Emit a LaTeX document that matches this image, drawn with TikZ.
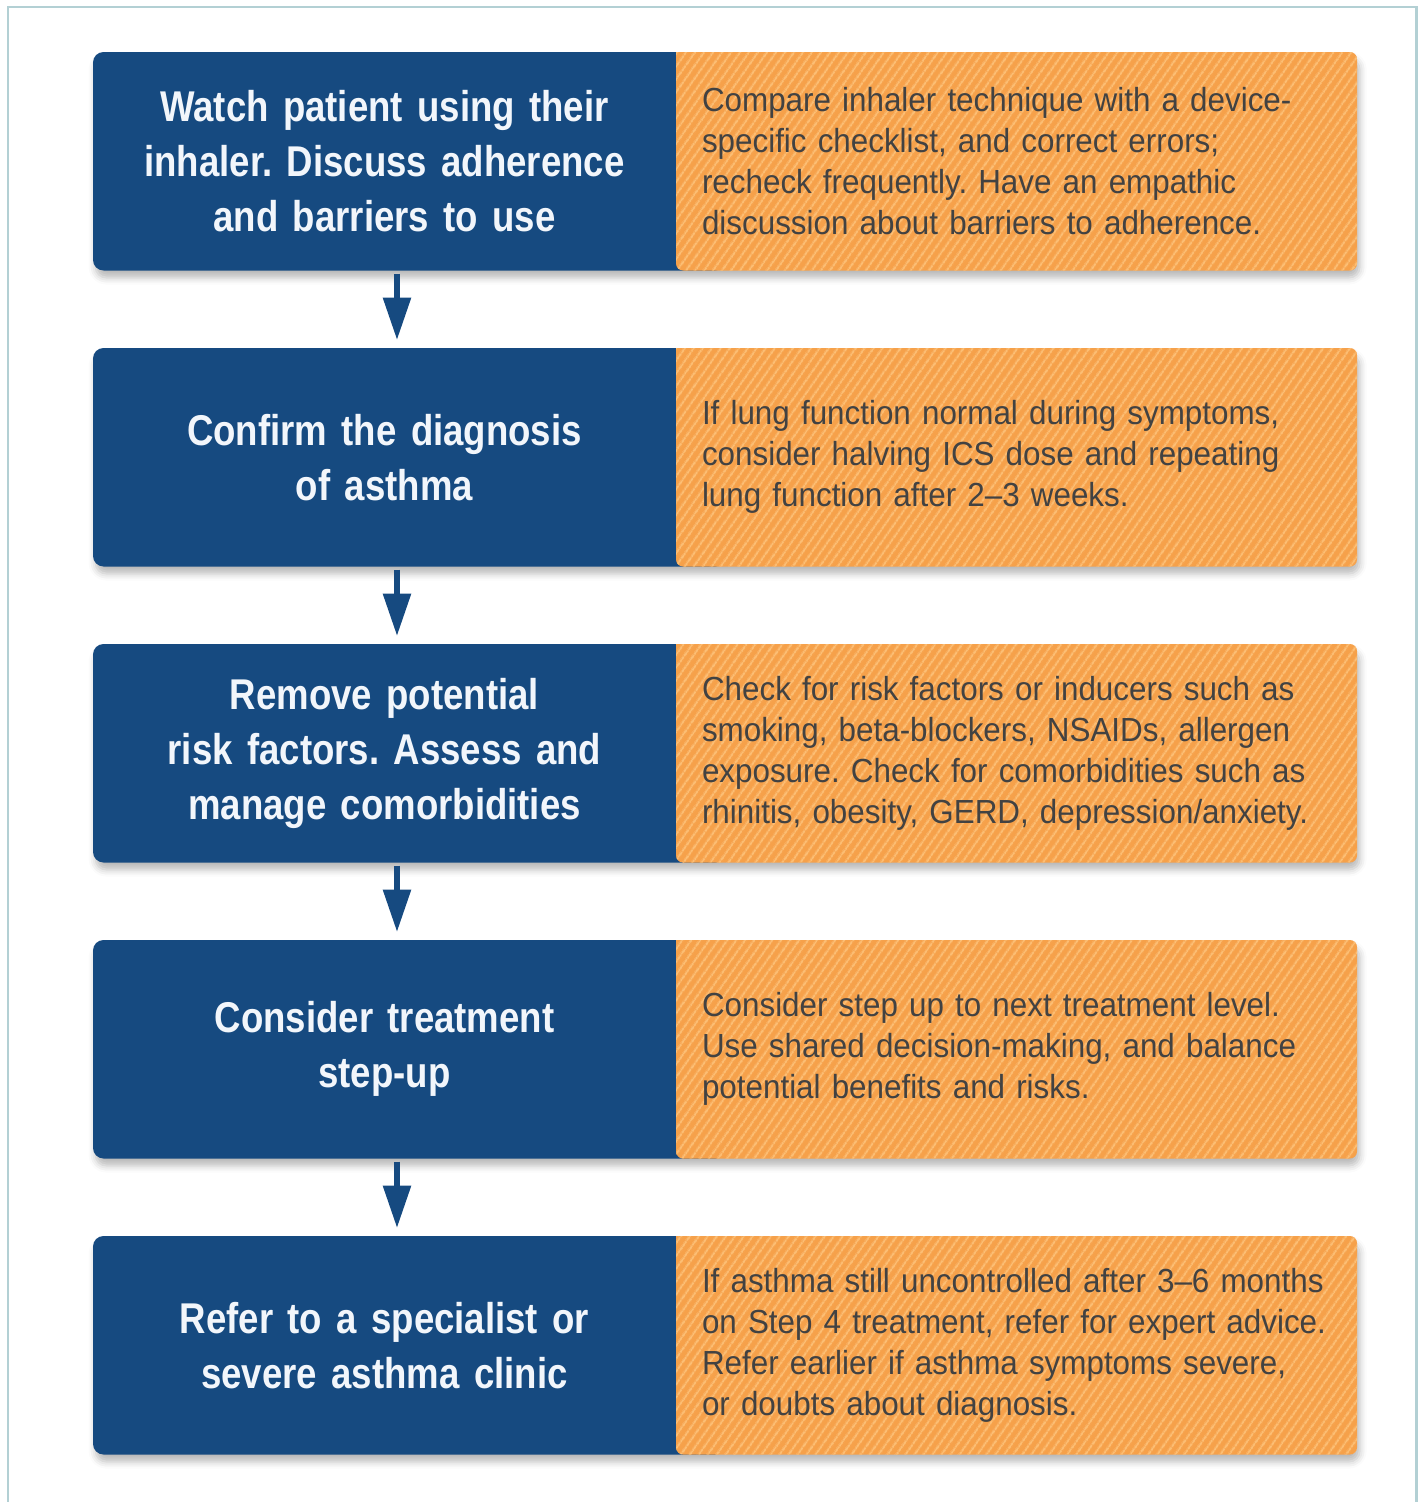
\documentclass[tikz,border=0pt]{standalone}
\usepackage{fontspec}
\setmainfont{Liberation Sans}[FakeStretch=0.94]
\newfontfamily\actfont{Liberation Sans}[FakeStretch=0.85]
\usetikzlibrary{positioning,arrows.meta,backgrounds,shadows.blur,patterns.meta}
\frenchspacing

\definecolor{actblue}{HTML}{164A80}
\definecolor{acttext}{HTML}{F2F6FB}
\definecolor{noteorange}{HTML}{F6A14A}
\definecolor{stripe}{HTML}{FCBE74}
\definecolor{notetext}{HTML}{424242}
\definecolor{framecol}{HTML}{B3D0D4}

\begin{document}
\begin{tikzpicture}[
    act/.style={minimum width=11.66cm, minimum height=4.37cm, text width=11cm,
      align=center, inner sep=0pt, outer sep=0pt, text=acttext,
      font=\actfont\bfseries\fontsize{24.5}{31.3}\selectfont},
    note/.style={minimum width=13.62cm, minimum height=4.37cm, text width=12.58cm,
      align=left, inner xsep=0.52cm, inner ysep=0pt, outer sep=0pt, text=notetext,
      font=\fontsize{19}{23.3}\selectfont},
    flow/.style={draw=actblue, line width=3.4pt, -{Triangle[width=0.54cm,length=0.85cm]}},
    node distance=1.55cm]
  \useasboundingbox (0,0) rectangle (28.44,-30.04);
  % outer frame, open at the bottom
  \draw[framecol, line width=1.7pt] (0.16,-31) |- (28.32,-0.14) -- (28.32,-31);

  % steps (left) and notes (right)
  \node[act, anchor=north west] (act1) at (1.86,-1.04)
    {Watch patient using their\\inhaler. Discuss adherence\\and barriers to use};
  \node[note, right=0pt of act1] (note1)
    {Compare inhaler technique with a device-\\specific checklist, and correct errors;\\recheck frequently. Have an empathic\\discussion about barriers to adherence.};

  \node[act, below=of act1] (act2) {Confirm the diagnosis\\of asthma};
  \node[note, right=0pt of act2] (note2)
    {If lung function normal during symptoms,\\consider halving ICS dose and repeating\\lung function after 2--3 weeks.};

  \node[act, below=of act2] (act3)
    {Remove potential\\risk factors. Assess and\\manage comorbidities};
  \node[note, right=0pt of act3] (note3)
    {Check for risk factors or inducers such as\\smoking, beta-blockers, NSAIDs, allergen\\exposure. Check for comorbidities such as\\rhinitis, obesity, GERD, depression/anxiety.};

  \node[act, below=of act3] (act4) {Consider treatment\\step-up};
  \node[note, right=0pt of act4] (note4)
    {Consider step up to next treatment level.\\Use shared decision-making, and balance\\potential benefits and risks.};

  \node[act, below=of act4] (act5) {Refer to a specialist or\\severe asthma clinic};
  \node[note, right=0pt of act5] (note5)
    {\mbox{If asthma still uncontrolled after 3--6 months}\\\mbox{on Step 4 treatment, refer for expert advice.}\\Refer earlier if asthma symptoms severe,\\or doubts about diagnosis.};

  % box fills behind the text
  \begin{scope}[on background layer]
    \foreach \i in {1,...,5} {
      \path[rounded corners=6pt, blur shadow={shadow xshift=1.5pt, shadow yshift=-4pt,
          shadow opacity=28, shadow blur radius=4pt}]
        (act\i.north west) rectangle (note\i.south east);
      \fill[actblue, rounded corners=6pt] (act\i.north west) rectangle ([xshift=1cm]act\i.south east);
      \path[fill=noteorange, postaction={pattern={Lines[angle=55,distance=4pt,line width=1.3pt]},
          pattern color=stripe}]
        (note\i.north west) [rounded corners=4pt] -- (note\i.north east) -- (note\i.south east)
        -- (note\i.south west) [sharp corners] -- cycle;
    }
  \end{scope}

  % arrows between the steps
  \draw[flow] ([xshift=0.25cm,yshift=-0.06cm]act1.south) -- ([xshift=0.25cm,yshift=0.16cm]act2.north);
  \draw[flow] ([xshift=0.25cm,yshift=-0.06cm]act2.south) -- ([xshift=0.25cm,yshift=0.16cm]act3.north);
  \draw[flow] ([xshift=0.25cm,yshift=-0.06cm]act3.south) -- ([xshift=0.25cm,yshift=0.16cm]act4.north);
  \draw[flow] ([xshift=0.25cm,yshift=-0.06cm]act4.south) -- ([xshift=0.25cm,yshift=0.16cm]act5.north);
\end{tikzpicture}
\end{document}
